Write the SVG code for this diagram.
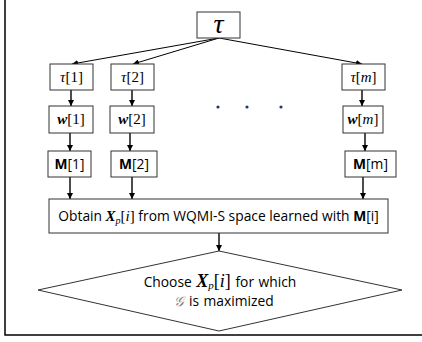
<svg xmlns="http://www.w3.org/2000/svg" width="422" height="342" viewBox="0 0 422 342">
  <defs>
    <marker id="arr" viewBox="0 0 10 10" refX="10" refY="5" markerWidth="6" markerHeight="6" markerUnits="userSpaceOnUse" orient="auto">
      <path d="M0,0 L10,5 L0,10 z" fill="#000"/>
    </marker>
    <style>
      .box { fill: #fff; stroke: #333; stroke-width: 1; }
      .edge { fill: none; stroke: #000; stroke-width: 1.4; marker-end: url(#arr); }
      .thin { stroke-width: 1; }
      .math { font-family: "Liberation Serif", "DejaVu Serif", serif; font-size: 15px; fill: #000; }
      .mi { font-style: italic; }
      .mf { font-family: "Liberation Serif", "DejaVu Serif", serif; }
      .lbl { font-family: "Open Sans", "Noto Sans", sans-serif; font-size: 13.8px; fill: #000; }
      .dot { fill: #1f3a6b; }
    </style>
  </defs>

  <!-- frame -->
  <path d="M5,0 V335 H422" fill="none" stroke="#000" stroke-width="1.5"/>

  <!-- connectors -->
  <g id="connectors">
    <line class="edge thin" x1="219" y1="38" x2="72" y2="64"/>
    <line class="edge thin" x1="219" y1="38" x2="133" y2="64"/>
    <line class="edge thin" x1="219" y1="38" x2="362" y2="64"/>
    <line class="edge" x1="71" y1="90" x2="71" y2="106"/>
    <line class="edge" x1="132" y1="90" x2="132" y2="106"/>
    <line class="edge" x1="362" y1="90" x2="362" y2="106"/>
    <line class="edge" x1="70" y1="133" x2="70" y2="151"/>
    <line class="edge" x1="130" y1="133" x2="130" y2="151"/>
    <line class="edge" x1="365" y1="133" x2="365" y2="151"/>
    <line class="edge" x1="70" y1="177" x2="70" y2="199"/>
    <line class="edge" x1="132" y1="177" x2="132" y2="199"/>
    <line class="edge" x1="363" y1="177" x2="363" y2="199"/>
    <line class="edge" x1="219" y1="233" x2="219" y2="251"/>
  </g>

  <g id="tau">
    <rect class="box" x="197" y="12" width="43" height="26"/>
    <text x="218.5" y="33" text-anchor="middle" font-family="Liberation Serif, DejaVu Serif, serif" font-style="italic" font-size="28">τ</text>
  </g>

  <g id="tau1">
    <rect class="box" x="50" y="64" width="43" height="26"/>
    <text class="math" x="71.5" y="82" text-anchor="middle"><tspan class="mi">τ</tspan>[1]</text>
  </g>
  <g id="tau2">
    <rect class="box" x="111" y="64" width="43" height="26"/>
    <text class="math" x="132.5" y="82" text-anchor="middle"><tspan class="mi">τ</tspan>[2]</text>
  </g>
  <g id="taum">
    <rect class="box" x="342" y="64" width="43" height="26"/>
    <text class="math" x="363.5" y="82" text-anchor="middle"><tspan class="mi">τ</tspan>[<tspan class="mi">m</tspan>]</text>
  </g>

  <g id="w1">
    <rect class="box" x="49" y="106" width="44" height="27"/>
    <text class="math" x="71" y="124" text-anchor="middle"><tspan class="mi" font-weight="bold">w</tspan>[1]</text>
  </g>
  <g id="w2">
    <rect class="box" x="110" y="106" width="44" height="27"/>
    <text class="math" x="132" y="124" text-anchor="middle"><tspan class="mi" font-weight="bold">w</tspan>[2]</text>
  </g>
  <g id="wm">
    <rect class="box" x="343" y="106" width="40" height="27"/>
    <text class="math" x="363" y="124" text-anchor="middle"><tspan class="mi" font-weight="bold">w</tspan>[<tspan class="mi">m</tspan>]</text>
  </g>

  <g id="ellipsis">
    <circle class="dot" cx="218" cy="107" r="1.6"/>
    <circle class="dot" cx="247" cy="107" r="1.6"/>
    <circle class="dot" cx="281" cy="107" r="1.6"/>
  </g>

  <g id="M1">
    <rect class="box" x="48" y="151" width="43" height="26"/>
    <text class="lbl" x="69.5" y="169" text-anchor="middle" font-size="14"><tspan font-weight="bold">M</tspan>[1]</text>
  </g>
  <g id="M2">
    <rect class="box" x="111" y="151" width="46" height="26"/>
    <text class="lbl" x="134" y="169" text-anchor="middle" font-size="14"><tspan font-weight="bold">M</tspan>[2]</text>
  </g>
  <g id="Mm">
    <rect class="box" x="345" y="151" width="51" height="26"/>
    <text class="lbl" x="370.5" y="169" text-anchor="middle" font-size="14"><tspan font-weight="bold">M</tspan>[m]</text>
  </g>

  <g id="obtain">
    <rect class="box" x="49" y="199" width="339" height="34"/>
    <text class="lbl" x="218.5" y="221" text-anchor="middle">Obtain <tspan class="mf" font-weight="bold" font-style="italic" font-size="15">X</tspan><tspan class="mf" font-style="italic" font-size="10" dy="3">p</tspan><tspan class="mf" font-size="15" dy="-3">[<tspan font-style="italic">i</tspan>]</tspan> from WQMI-S space learned with <tspan font-weight="bold">M</tspan>[i]</text>
  </g>

  <g id="choose">
    <polygon class="box" points="219,251 402,290 219,331 38,290"/>
    <text class="lbl" x="220" y="287" text-anchor="middle" font-size="16.5" word-spacing="1">Choose <tspan class="mf" font-weight="bold" font-style="italic" font-size="18">X</tspan><tspan class="mf" font-style="italic" font-size="11" dy="2">p</tspan><tspan class="mf" font-size="18" dy="-2">[<tspan font-style="italic">i</tspan>]</tspan> for which</text>
    <text class="lbl" x="224" y="306" text-anchor="middle" font-size="16.5" word-spacing="1"><tspan class="mf" font-style="italic" fill="#777">𝒢</tspan> is maximized</text>
  </g>
</svg>
